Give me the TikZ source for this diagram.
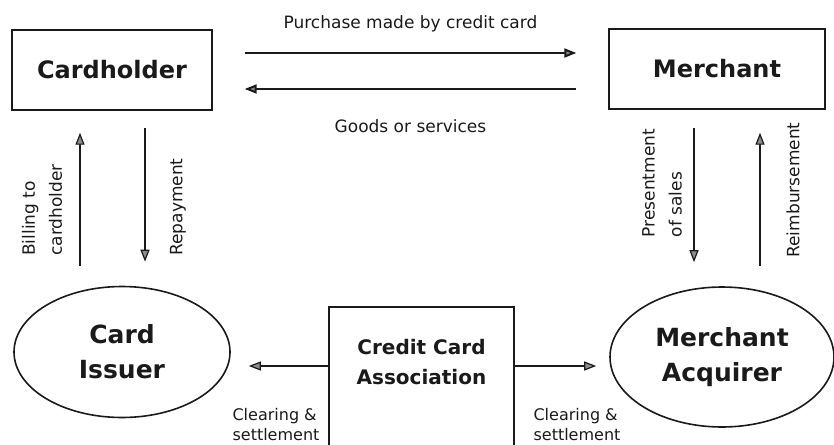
\documentclass[tikz,border=0pt]{standalone}
\usepackage{fontspec}
\setmainfont{DejaVu Sans}
\usepackage{tikz}
\usetikzlibrary{positioning, arrows.meta, shapes.geometric, calc}
\definecolor{flowInk}{HTML}{1A1A1A}
\definecolor{tipGray}{HTML}{8C8C8C}

\begin{document}
\begin{tikzpicture}[
  x=1pt, y=-1pt,
  every node/.style={text=flowInk},
  party/.style={
    rectangle, draw=flowInk, line width=1.4pt,
    minimum width=200pt, minimum height=80pt,
    font=\fontsize{24}{30}\selectfont\bfseries
  },
  bank/.style={
    ellipse, draw=flowInk, line width=1.6pt, inner sep=0pt,
    align=center, font=\fontsize{25}{35}\selectfont\bfseries
  },
  assocbox/.style={
    rectangle, draw=flowInk, line width=1.4pt,
    minimum width=185pt, minimum height=160pt
  },
  flow/.style={
    -{Triangle[length=12pt, width=9pt, fill=tipGray]},
    line width=1.2pt, draw=flowInk
  },
  heavyflow/.style={flow, line width=2pt},
  note/.style={font=\fontsize{17}{27}\selectfont, align=left},
  sidenote/.style={note, rotate=90},
  smallnote/.style={font=\fontsize{16}{20}\selectfont, align=left},
]
\useasboundingbox (0,0) rectangle (834,444);

% === PARTIES ===
\node[party] (holder) at (112,70) {Cardholder};
\node[party, minimum width=216pt] (shop) at (717,69) {Merchant};

\node[bank, minimum width=216pt, minimum height=131pt] (issuer) at (122,352) {Card\\Issuer};
\node[bank, minimum width=224pt, minimum height=140pt] (acquirer) at (722,357) {Merchant\\Acquirer};

\node[assocbox] (assoc) at (421.5,387) {};
\node[font=\fontsize{20}{30}\selectfont\bfseries, align=center] (assocname) at (421.5,362) {Credit Card\\Association};

% === Purchase / goods ===
\draw[heavyflow, shorten <=32pt, shorten >=32pt]
  ([yshift=17pt]holder.east) -- node[note, above=17pt] (buylbl) {Purchase made by credit card}
  ([yshift=17pt]holder.east -| shop.west);
\draw[heavyflow, shorten <=32pt, shorten >=32pt]
  ([yshift=-20pt]shop.west) -- node[note, below=26pt] (goodslbl) {Goods or services}
  ([yshift=-20pt]shop.west -| holder.east);

% === Issuer side ===
\draw[flow, shorten <=20pt, shorten >=22pt]
  ([xshift=-32pt]holder.south |- issuer.north) -- ([xshift=-32pt]holder.south);
\draw[flow, shorten <=17pt, shorten >=24pt]
  ([xshift=33pt]holder.south) -- ([xshift=33pt]holder.south |- issuer.north);
\node[sidenote] (billlbl) at (42,210) {Billing to\\cardholder};
\node[sidenote] (paylbl) at (178,207) {Repayment};

% === Acquirer side ===
\draw[flow, shorten <=18pt, shorten >=24pt]
  ([xshift=-23pt]shop.south) -- ([xshift=-23pt]shop.south |- acquirer.north);
\draw[flow, shorten <=20pt, shorten >=23pt]
  ([xshift=43pt]shop.south |- acquirer.north) -- ([xshift=43pt]shop.south);
\node[sidenote] (salelbl) at (662,183) {Presentment\\of sales};
\node[sidenote] (reimblbl) at (793,190) {Reimbursement};

% === Clearing ===
\draw[flow, shorten >=18pt]
  ([yshift=21pt]assoc.west) -- ([yshift=21pt]assoc.west -| issuer.east);
\draw[flow, shorten >=13pt]
  ([yshift=21pt]assoc.east) -- ([yshift=21pt]assoc.east -| acquirer.west);
\node[smallnote] (clearL) at (276,425) {Clearing \&\\settlement};
\node[smallnote] (clearR) at (577,425) {Clearing \&\\settlement};

\end{tikzpicture}
\end{document}
